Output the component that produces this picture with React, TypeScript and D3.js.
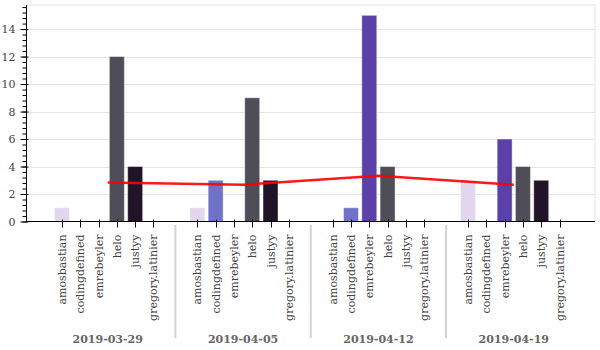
import { useEffect, useRef } from "react";
import * as d3 from "d3";

const dates = ["2019-03-29", "2019-04-05", "2019-04-12", "2019-04-19"];
const users = ["amosbastian", "codingdefined", "emrebeyler", "helo", "justyy", "gregory.latinier"];
const userColors = ["#e2d5ee", "#6e73c5", "#5a40a8", "#4e4d58", "#211429", "#0b0712"];

// contributions per user, one value per date
const amosbastian = [1, 1, 0, 3];
const codingdefined = [0, 3, 1, 0];
const emrebeyler = [0, 0, 15, 6];
const helo = [12, 9, 4, 4];
const justyy = [4, 3, 0, 3];
const gregoryLatinier = [0, 0, 0, 0];
const seriesValues = [amosbastian, codingdefined, emrebeyler, helo, justyy, gregoryLatinier];

// red line: per-date average
const averageLine = [2.83, 2.67, 3.33, 2.67];

const yTicks = [0, 2, 4, 6, 8, 10, 12, 14];

export default function App() {
  const svgRef = useRef<SVGSVGElement>(null);

  useEffect(() => {
    if (!svgRef.current) return;
    const width = 600;
    const height = 350;
    const frame = { left: 26.5, right: 595, top: 5, bottom: 221.5 };
    const serif = "'DejaVu Serif', serif";

    const svg = d3.select(svgRef.current).attr("width", width).attr("height", height);
    svg.selectAll("*").remove();

    const x0 = d3
      .scaleBand<string>()
      .domain(dates)
      .range([frame.left, frame.right])
      .paddingInner(0)
      .paddingOuter(0.1);
    const x1 = d3
      .scalePoint<string>()
      .domain(users)
      .range([0, x0.bandwidth()])
      .padding(1.2);
    const y = d3.scaleLinear().domain([0, 15.75]).range([frame.bottom, frame.top]);
    const barW = x1.step() * 0.82;

    // frame outline
    svg
      .append("rect")
      .attr("x", frame.left)
      .attr("y", frame.top)
      .attr("width", frame.right - frame.left)
      .attr("height", frame.bottom - frame.top)
      .attr("fill", "none")
      .attr("stroke", "#e5e5e5")
      .attr("stroke-width", 1);

    // gridlines
    svg
      .append("g")
      .selectAll("line")
      .data(yTicks.slice(1))
      .join("line")
      .attr("x1", frame.left)
      .attr("x2", frame.right)
      .attr("y1", (d) => Math.round(y(d)) + 0.5)
      .attr("y2", (d) => Math.round(y(d)) + 0.5)
      .attr("stroke", "#e5e5e5")
      .attr("stroke-width", 1);

    // bars
    const bars = svg.append("g");
    dates.forEach((date, di) => {
      users.forEach((user, ui) => {
        const v = seriesValues[ui][di];
        if (v <= 0) return;
        const cx = x0(date)! + x1(user)!;
        bars
          .append("rect")
          .attr("x", cx - barW / 2)
          .attr("y", y(v))
          .attr("width", barW)
          .attr("height", y(0) - y(v))
          .attr("fill", userColors[ui])
          .attr("stroke", "#ffffff")
          .attr("stroke-opacity", 0.45)
          .attr("stroke-width", 1);
      });
    });

    // average line
    const line = d3
      .line<number>()
      .x((_, i) => x0(dates[i])! + x0.bandwidth() / 2)
      .y((d) => y(d));
    svg
      .append("path")
      .datum(averageLine)
      .attr("fill", "none")
      .attr("stroke", "#ff0000")
      .attr("stroke-opacity", 0.9)
      .attr("stroke-width", 2.5)
      .attr("d", line);

    // y axis
    const yAxis = svg.append("g").attr("transform", `translate(${frame.left},0)`);
    yAxis
      .append("g")
      .call(d3.axisLeft(y).tickValues(d3.range(0, 15.75, 0.4)).tickSize(4).tickFormat(() => ""))
      .call((sel) => sel.select(".domain").remove())
      .call((sel) => sel.selectAll("line").attr("stroke", "#000"));
    yAxis
      .append("g")
      .call(d3.axisLeft(y).tickValues(yTicks).tickSize(6).tickPadding(5))
      .call((sel) => sel.select(".domain").remove())
      .call((sel) => sel.selectAll("line").attr("x1", 2).attr("stroke", "#000"))
      .selectAll("text")
      .style("font-family", serif)
      .style("font-size", "11px")
      .style("fill", "#444444");
    yAxis
      .append("line")
      .attr("x1", 0)
      .attr("x2", 0)
      .attr("y1", frame.top)
      .attr("y2", frame.bottom)
      .attr("stroke", "#000");

    // x axis
    const xAxis = svg.append("g");
    xAxis
      .append("line")
      .attr("x1", frame.left)
      .attr("x2", frame.right)
      .attr("y1", frame.bottom)
      .attr("y2", frame.bottom)
      .attr("stroke", "#000");

    dates.forEach((date, di) => {
      users.forEach((user) => {
        const cx = Math.round(x0(date)! + x1(user)!) + 0.5;
        xAxis
          .append("line")
          .attr("x1", cx)
          .attr("x2", cx)
          .attr("y1", frame.bottom - 2)
          .attr("y2", frame.bottom + 6)
          .attr("stroke", "#000");
        xAxis
          .append("text")
          .attr("transform", `translate(${cx},${frame.bottom + 13}) rotate(-90)`)
          .attr("text-anchor", "end")
          .attr("dy", "0.35em")
          .style("font-family", serif)
          .style("font-size", "11px")
          .style("fill", "#444444")
          .text(user);
      });
      xAxis
        .append("text")
        .attr("x", x0(date)! + x0.bandwidth() / 2)
        .attr("y", 343)
        .attr("text-anchor", "middle")
        .style("font-family", serif)
        .style("font-size", "11px")
        .style("font-weight", "bold")
        .style("fill", "#666666")
        .text(date);
      if (di > 0) {
        const sx = x0(date)!;
        xAxis
          .append("line")
          .attr("x1", sx)
          .attr("x2", sx)
          .attr("y1", 225)
          .attr("y2", 338)
          .attr("stroke", "#d3d3d3")
          .attr("stroke-width", 2);
      }
    });
  }, []);

  return (
    <div style={{ position: "absolute", left: 0, top: 0 }}>
      <svg ref={svgRef} role="img" aria-label="Weekly contributions per user" />
    </div>
  );
}
